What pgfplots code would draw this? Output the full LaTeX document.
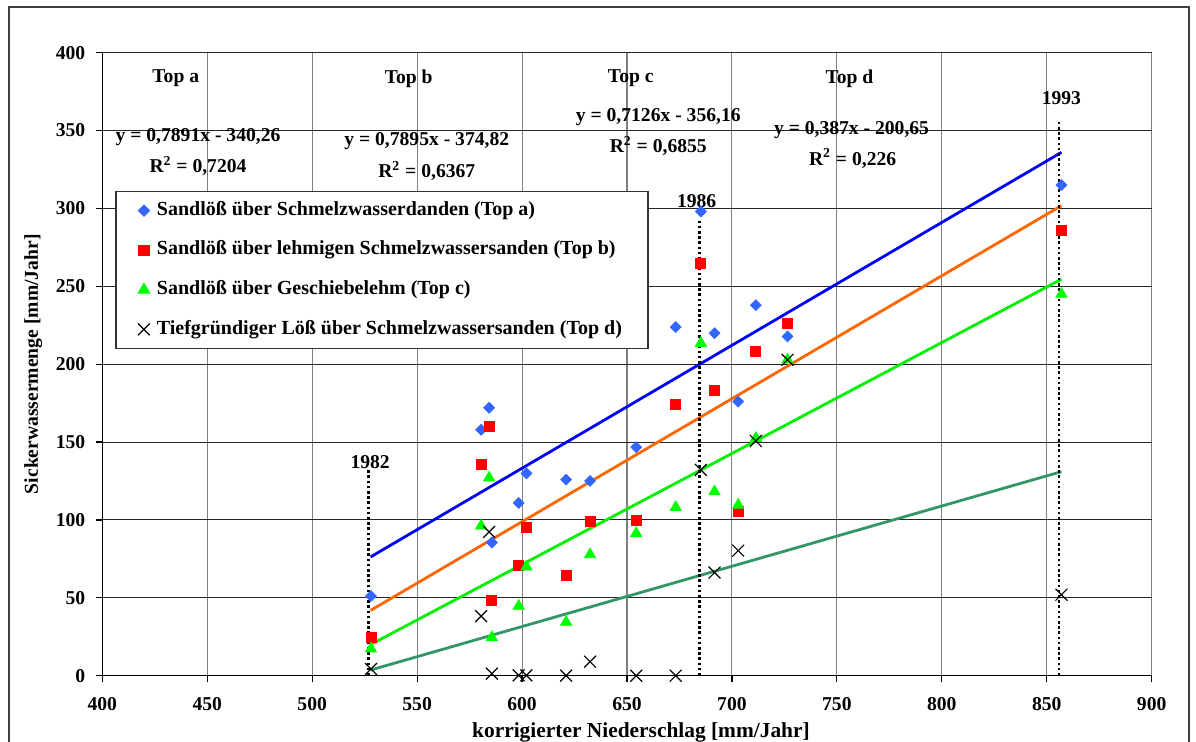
\documentclass[border=0pt]{standalone}
\usepackage{pgfplots}
\pgfplotsset{compat=1.18}
\usepackage{fontspec}
\setmainfont{Liberation Serif}
\definecolor{ptA}{RGB}{51,102,255}
\definecolor{ptB}{RGB}{255,0,0}
\definecolor{ptC}{RGB}{0,255,0}
\definecolor{lineA}{RGB}{0,0,255}
\definecolor{lineB}{RGB}{255,102,0}
\definecolor{lineC}{RGB}{0,240,0}
\definecolor{lineD}{RGB}{51,150,102}
\newcommand{\ff}{\fontsize{9.8}{11.8}\selectfont\bfseries}
\newcommand{\fl}{\fontsize{10}{12}\selectfont\bfseries}
\begin{document}
\begin{tikzpicture}
\useasboundingbox (0,0) rectangle (598pt,371pt);
\draw[black!75, line width=0.6pt] (4.5pt,-2pt) -- (4.5pt,367.5pt) -- (594.5pt,367.5pt) -- (594.5pt,-2pt);
\begin{axis}[
  at={(51.15pt,33.15pt)}, anchor=south west,
  scale only axis, width=524.7pt, height=311.5pt,
  xmin=400, xmax=900, ymin=0, ymax=400,
  xtick={400,450,...,900}, ytick={0,50,...,400},
  axis lines=left, axis line style={-, black, line width=0.6pt},
  tick align=outside, major tick length=3pt, tick style={black, line width=0.6pt},
  grid=major,
  major x grid style={black!50, line width=0.55pt},
  major y grid style={black!85, line width=0.45pt},
  /pgf/number format/assume math mode=true,
  ticklabel style={font=\ff},
  xticklabel style={yshift=-4.5pt},
  yticklabel style={xshift=-2pt},
  xlabel={korrigierter Niederschlag [mm/Jahr]},
  ylabel={Sickerwassermenge [mm/Jahr]},
  xlabel style={font=\fontsize{10.7}{12.8}\selectfont\bfseries, at={(axis description cs:0.5133,0)}, anchor=center, yshift=-28.6pt},
  ylabel style={font=\ff},
  legend style={at={(0.0125,0.7785)}, anchor=north west, draw=black!80, line width=0.6pt,
    fill=white, font=\fl, inner xsep=11pt, inner ysep=3pt, row sep=6.5pt, column sep=1.5pt,
    nodes={inner sep=2pt, text height=7pt, text depth=2.3pt}},
  legend cell align=left,
  legend image code/.code={\draw[mark repeat=2,mark phase=2,#1] plot coordinates {(0pt,0pt)(3pt,0pt)(6pt,0pt)};},
  clip=false,
]
% trend lines
\addplot[lineA, line width=1.4pt, forget plot] coordinates {(527.8,76.23)(857,336.0)};
\addplot[lineB, line width=1.4pt, forget plot] coordinates {(527.8,41.88)(857,301.78)};
\addplot[lineC, line width=1.4pt, forget plot] coordinates {(527.8,19.95)(857,254.54)};
\addplot[lineD, line width=1.4pt, forget plot] coordinates {(527.8,3.61)(857,131.01)};
% year lines
\addplot[black, line width=1.2pt, dash pattern=on 1.3pt off 1.3pt, forget plot] coordinates {(526.8,0)(526.8,132.5)};
\addplot[black, line width=1.2pt, dash pattern=on 1.3pt off 1.3pt, forget plot] coordinates {(684.5,0)(684.5,293)};
\addplot[black, line width=1.2pt, dash pattern=on 1.3pt off 1.3pt, forget plot] coordinates {(855.7,0)(855.7,356)};
% data
\addplot[only marks, mark=square*, mark size=1.9pt, mark options={rotate=45, fill=ptA, draw=ptA}]
coordinates {(528,51.1)(580.5,157.9)(584.3,172.0)(585.6,85.5)(598.4,110.9)(602.1,129.9)(621,125.9)(632.4,125.0)
(654.4,146.7)(673.2,223.8)(685.2,298.0)(691.7,219.9)(703,176.0)(711.4,237.9)(726.5,217.8)(857,315.0)};
\addlegendentry{Sandlöß über Schmelzwasserdanden (Top a)}
\addplot[only marks, mark=square*, mark size=2.5pt, mark options={fill=ptB, draw=ptB}]
coordinates {(528,24.9)(580.5,135.7)(584.3,160.3)(585.6,48.5)(598.4,70.7)(602.1,95.5)(621,64.3)(632.4,98.8)
(654.4,99.6)(673.2,173.9)(685.2,264.9)(691.7,183.1)(703,105.4)(711.4,208.4)(726.5,225.9)(857,285.6)};
\addlegendentry{Sandlöß über lehmigen Schmelzwassersanden (Top b)}
\addplot[only marks, mark=triangle*, mark size=3.2pt, mark options={fill=ptC, draw=ptC}]
coordinates {(528,17.3)(580.5,96.2)(584.3,127.1)(585.6,24.6)(598.4,44.7)(602.1,69.9)(621,34.4)(632.4,77.8)
(654.4,91.4)(673.2,108.1)(685.2,213.5)(691.7,118.2)(703,109.6)(711.4,152.5)(726.5,202.8)(857,245.0)};
\addlegendentry{Sandlöß über Geschiebelehm (Top c)}
\addplot[only marks, mark=x, mark size=4.2pt, mark options={draw=black, line width=0.6pt}]
coordinates {(528,4.3)(580.5,38.2)(584.3,92.3)(585.6,1.3)(598.4,0.2)(602.1,0.2)(621,0)(632.4,9.0)
(654.4,0)(673.2,0)(685.2,132.1)(691.7,66.2)(703,80.3)(711.4,150.7)(726.5,202.8)(857,52.0)};
\addlegendentry{Tiefgründiger Löß über Schmelzwassersanden (Top d)}
% annotations
\node[font=\ff] at (axis cs:435,383.4) {Top a};
\node[font=\ff] at (axis cs:445.6,346) {y = 0,7891x - 340,26};
\node[font=\ff] at (axis cs:445.6,327.4) {R\textsuperscript{2} = 0,7204};
\node[font=\ff] at (axis cs:546,383) {Top b};
\node[font=\ff] at (axis cs:554.6,343.5) {y = 0,7895x - 374,82};
\node[font=\ff] at (axis cs:554.6,324) {R\textsuperscript{2} = 0,6367};
\node[font=\ff] at (axis cs:651.8,383.5) {Top c};
\node[font=\ff] at (axis cs:664.9,358.5) {y = 0,7126x - 356,16};
\node[font=\ff] at (axis cs:664.9,340) {R\textsuperscript{2} = 0,6855};
\node[font=\ff] at (axis cs:756,383.5) {Top d};
\node[font=\ff] at (axis cs:757,350.4) {y = 0,387x - 200,65};
\node[font=\ff] at (axis cs:757.5,332) {R\textsuperscript{2} = 0,226};
\node[font=\ff] at (axis cs:527.6,137.4) {1982};
\node[font=\ff] at (axis cs:683.2,305) {1986};
\node[font=\ff] at (axis cs:857,371) {1993};
\end{axis}
\end{tikzpicture}
\end{document}
